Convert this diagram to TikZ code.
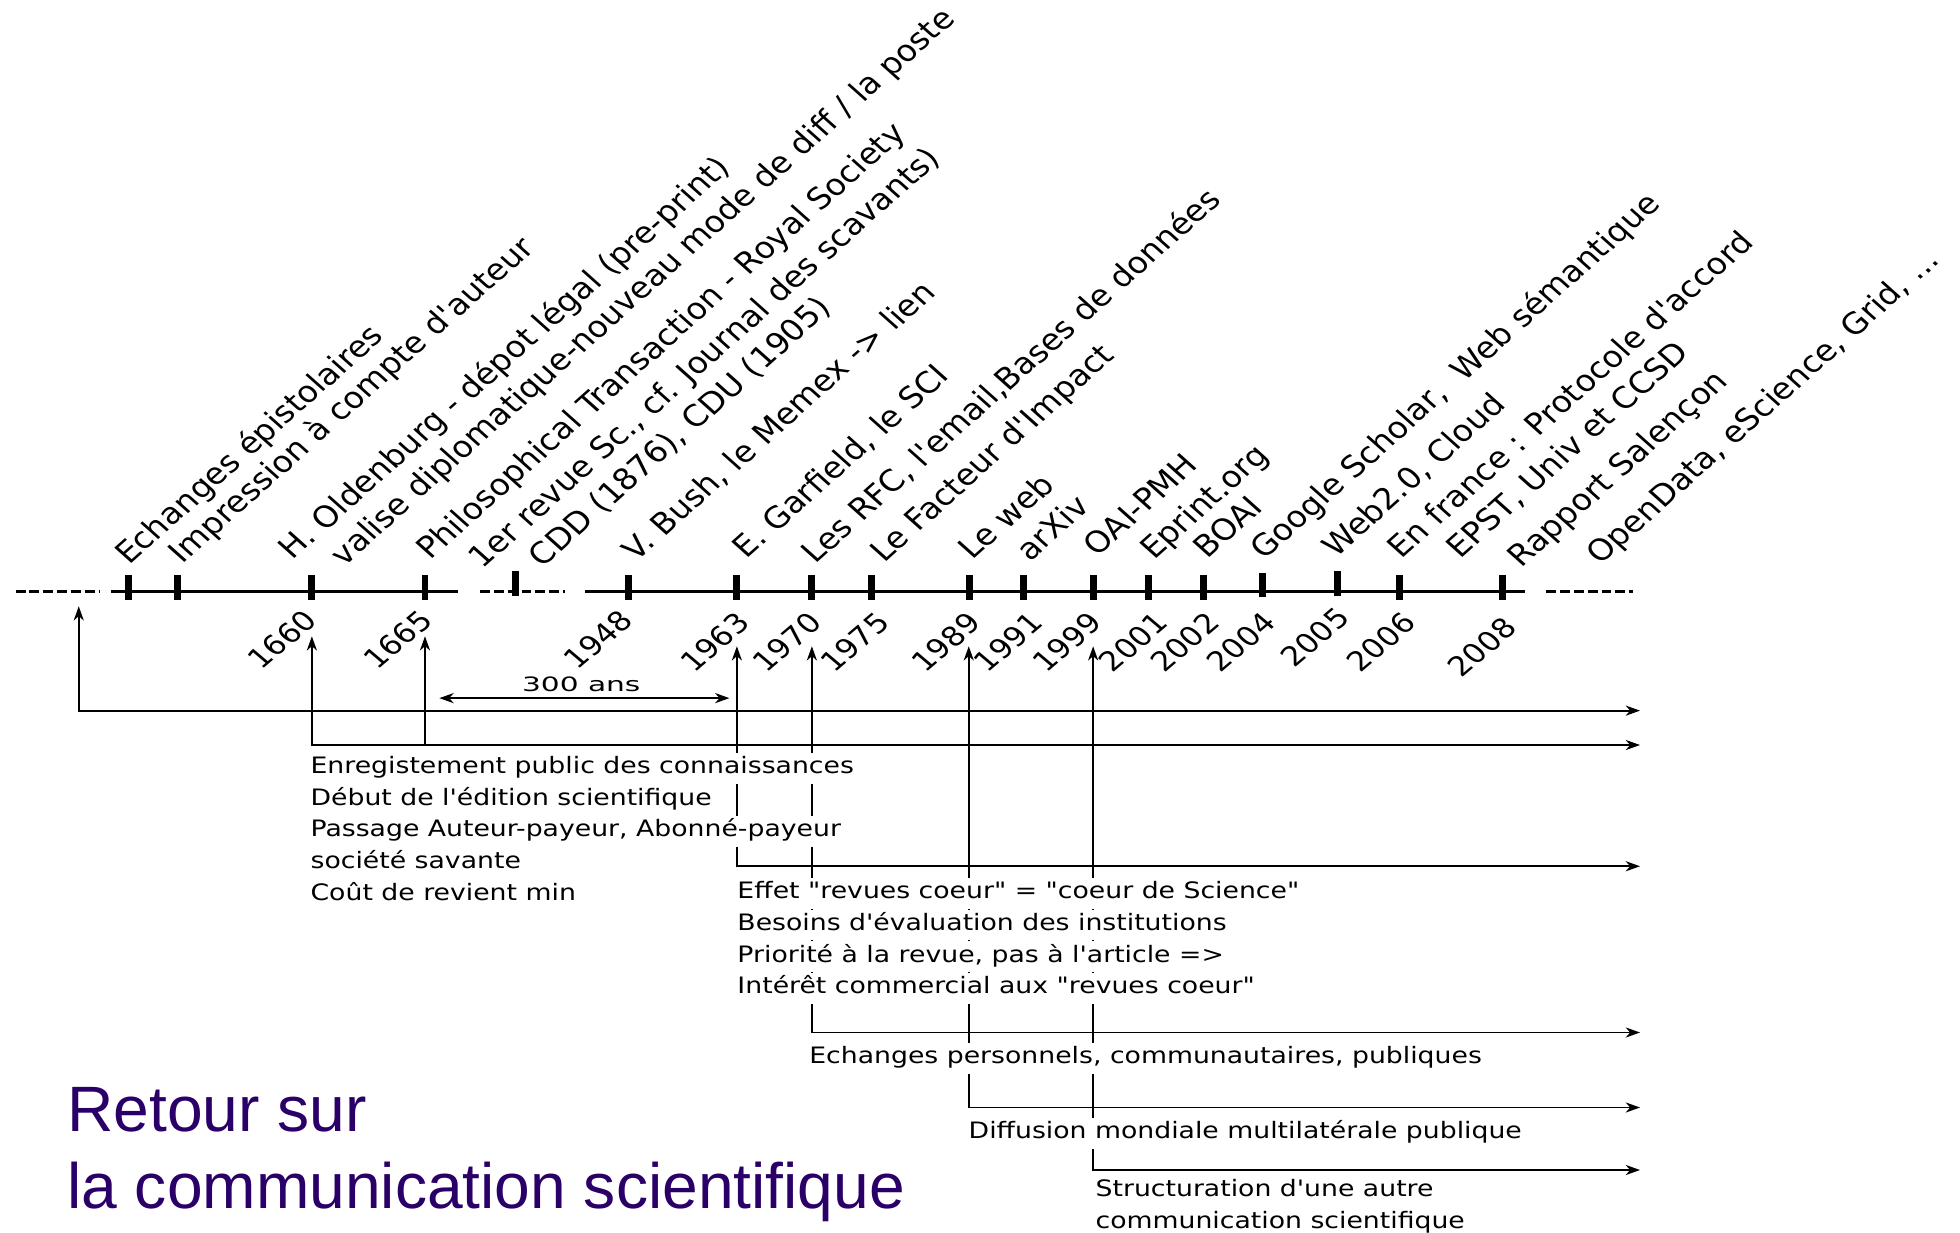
\documentclass[tikz,border=0pt]{standalone}
\usepackage{fontspec}
\usepackage{graphicx}
\setmainfont{DejaVu Sans}[Ligatures=TeXOff]
\newfontfamily\titlefont{Liberation Sans}
\usetikzlibrary{arrows.meta,positioning}
\definecolor{titleviolet}{RGB}{42,0,104}

\begin{document}
\begin{tikzpicture}[x=0.02cm, y=-0.02cm,
    >={Stealth[length=6.5pt,width=4.6pt,inset=2pt]},
    axis/.style={line width=1.3pt},
    dashaxis/.style={line width=1.3pt, dash pattern=on 4.5pt off 1.8pt},
    tickmark/.style={fill=black, inner sep=0pt, minimum width=0.11cm, minimum height=0.4cm},
    event/.style={xscale=1.12, rotate=45, anchor=base west, inner sep=0pt, font=\fontsize{13.5}{16}\selectfont},
    year/.style={xscale=1.18, rotate=45, anchor=south east, inner sep=0pt, font=\fontsize{12.3}{14}\selectfont},
    era/.style={line width=0.85pt},
    txt/.style={xscale=1.18, anchor=base west, fill=white, inner xsep=1pt, inner ysep=1.5pt, text height=8pt, text depth=3pt, font=\fontsize{10.3}{12}\selectfont}]
\useasboundingbox (0,0) rectangle (1568,986);

% time axis
\draw[dashaxis] (12.5,473) -- (79,473);
\draw[axis] (89,473) -- (366,473);
\draw[dashaxis] (384,473) -- (452,473);
\draw[axis] (468,473) -- (1220,473);
\draw[dashaxis] (1237,473) -- (1306,473);

\foreach \x/\dy [count=\i] in {102.5/0, 142/0, 249.5/0, 340/0, 412.5/-3, 502.5/0, 589.5/0, 649.5/0, 697.5/0, 775.5/0, 818.5/0, 874.5/0, 918.5/0, 963/0, 1010/-2, 1070/-3.5, 1119.5/0, 1202/0}
    \node[tickmark] (tk\i) at (\x,{470+\dy}) {};

% years
\foreach \x/\y/\yr in {256/498/1660, 348.5/498/1665, 509/498/1948, 602/500/1963, 660/500/1970, 714/500/1975, 787/500/1989, 837/500/1991, 884/500/1999, 937/500/2001, 978/500/2002, 1023/500/2004, 1082/496/2005, 1135/500/2006, 1216/504/2008}
    \node[year] (y\yr) at (\x,\y) {\yr};

% events
\node[event] (ev1) at (103,453) {Echanges épistolaires};
\node[event] (ev2) at (146,452) {Impression à compte d'auteur};
\node[event] (ev3) at (234,449) {H. Oldenburg - dépot légal (pre-print)};
\node[event] (ev4) at (275,454) {valise diplomatique-nouveau mode de diff / la poste};
\node[event] (ev5) at (344,449) {Philosophical Transaction - Royal Society};
\node[event] (ev6) at (386,456) {1er revue Sc., cf. Journal des scavants)};
\node[event] (ev7) at (434,455) {CDD (1876), CDU (1905)};
\node[event] (ev8) at (509,450) {V. Bush, le Memex -> lien};
\node[event] (ev9) at (597,448) {E. Garfield, le SCI};
\node[event] (ev10) at (652,452) {Les RFC, l'email,Bases de données};
\node[event] (ev11) at (707,451) {Le Facteur d'Impact};
\node[event] (ev12) at (778,449) {Le web};
\node[event] (ev13) at (824,450) {arXiv};
\node[event] (ev14) at (878,446) {OAI-PMH};
\node[event] (ev15) at (923,449) {Eprint.org};
\node[event] (ev16) at (966,448) {BOAI};
\node[event] (ev17) at (1011,449) {Google Scholar,~ Web sémantique};
\node[event] (ev18) at (1069,447) {Web2.0, Cloud};
\node[event] (ev19) at (1121,448) {En france : Protocole d'accord};
\node[event] (ev20) at (1168,448) {EPST, Univ et CCSD};
\node[event] (ev21) at (1217,455) {Rapport Salençon};
\node[event] (ev22) at (1280,453) {OpenData, eScience, Grid, ...};

% eras
\coordinate (u0) at (63,485);
\coordinate (u1660) at (249.5,509);
\coordinate (u1665) at (340,509);
\coordinate (u1963) at (589.5,517);
\coordinate (u1970) at (649.5,517);
\coordinate (u1989) at (775,517);
\coordinate (u1999) at (874.5,517);
\coordinate (f1665) at (340,596);
\coordinate (e1) at (1312,568.5);
\coordinate (e2) at (1312,596);
\coordinate (e3) at (1312,693);
\coordinate (e4) at (1312,826);
\coordinate (e5) at (1312,886);
\coordinate (e6) at (1312,936);

\draw[era,<->] (u0) |- (e1);
\draw[era,<->] (u1660) |- (e2);
\draw[era,->] (f1665) -- (u1665);
\draw[era,<->] (u1963) |- (e3);
\draw[era,<->] (u1970) |- (e4);
\draw[era,<->] (u1989) |- (e5);
\draw[era,<->] (u1999) |- (e6);

% 300 ans
\coordinate (s0) at (351.5,558.5);
\coordinate (s1) at (583.5,558.5);
\draw[era,<->] (s0) -- (s1);
\node[anchor=base, inner sep=0pt, font=\fontsize{9}{11}\selectfont] (span) at (465,553) {\scalebox{1.5}[1]{300 ans}};

% era texts
\foreach \t [count=\i from 0] in {Enregistement public des connaissances, Début de l'édition scientifique, {Passage Auteur-payeur, Abonné-payeur}, société savante, Coût de revient min}
    \node[txt] (pa\i) at (246,{619+25.25*\i}) {\t};
\foreach \t [count=\i from 0] in {Effet "revues coeur" = "coeur de Science", Besoins d'évaluation des institutions, {Priorité à la revue, pas à l'article =>}, Intérêt commercial aux "revues coeur"}
    \node[txt] (pb\i) at (587.5,{719+25.33*\i}) {\t};
\node[txt] (pc) at (645,851) {Echanges personnels, communautaires, publiques};
\node[txt] (pd) at (772.5,911) {Diffusion mondiale multilatérale publique};
\node[txt] (pe0) at (874,957) {Structuration d'une autre};
\node[txt] (pe1) at (874,983) {communication scientifique};

% title
\node[anchor=base west, inner sep=0pt, text=titleviolet, font=\titlefont\fontsize{29.2}{35}\selectfont] (title1) at (53.5,905) {Retour sur};
\node[anchor=base west, inner sep=0pt, text=titleviolet, font=\titlefont\fontsize{29.2}{35}\selectfont] (title2) at (53.5,966.7) {la communication scientifique};
\end{tikzpicture}
\end{document}
